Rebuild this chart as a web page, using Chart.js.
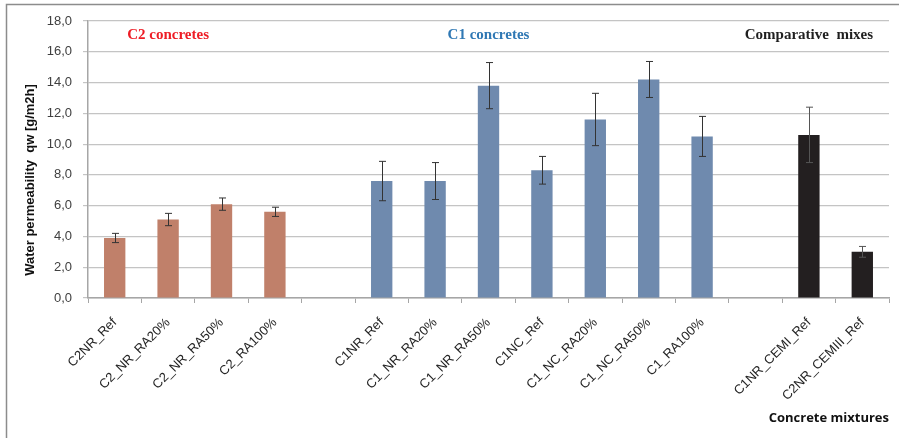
<!DOCTYPE html>
<html>
<head>
<meta charset="utf-8">
<script src="https://cdn.jsdelivr.net/npm/chart.js@4"></script>
<style>
  html, body { margin: 0; padding: 0; background: #fff; }
  #wrap { width: 899px; height: 438px; position: relative; }
</style>
</head>
<body>
<div id="wrap"><canvas id="chart"></canvas></div>
<script>
// ── 데이터 ──────────────────────────────────────────────────────────────
var categories = [
  "C2NR_Ref", "C2_NR_RA20%", "C2_NR_RA50%", "C2_RA100%", "",
  "C1NR_Ref", "C1_NR_RA20%", "C1_NR_RA50%", "C1NC_Ref", "C1_NC_RA20%", "C1_NC_RA50%", "C1_RA100%", "",
  "C1NR_CEMI_Ref", "C2NR_CEMIII_Ref"
];
var qwValues = [3.9, 5.1, 6.1, 5.6, null, 7.6, 7.6, 13.8, 8.3, 11.6, 14.2, 10.5, null, 10.6, 3.0];
var qwErrors = [0.3, 0.4, 0.4, 0.3, null, 1.28, 1.2, 1.5, 0.9, 1.7, 1.17, 1.3, null, 1.8, 0.35];
var groups   = ["C2", "C2", "C2", "C2", null, "C1", "C1", "C1", "C1", "C1", "C1", "C1", null, "CMP", "CMP"];
var yTicks   = [0, 2, 4, 6, 8, 10, 12, 14, 16, 18];

var groupLabels = [
  { text: "C2 concretes",        at: 1,  color: "#ee1c25" },
  { text: "C1 concretes",        at: 7,  color: "#2f78b4" },
  { text: "Comparative  mixes",  at: 13, color: "#1f1f1f" }
];
var groupColors = { C2: "#c0806a", C1: "#6f8aae", CMP: "#231f20" };
var yTitle = "Water permeability  qw [g/m2h]";

// ── 플러그인 ────────────────────────────────────────────────────────────
var errorBars = {
  id: "errorBars",
  afterDatasetsDraw: function(chart) {
    var ctx = chart.ctx, y = chart.scales.y;
    var meta = chart.getDatasetMeta(0);
    ctx.save();
    ctx.lineWidth = 1;
    meta.data.forEach(function(bar, i) {
      var v = qwValues[i], e = qwErrors[i];
      if (v === null || e === null) return;
      ctx.strokeStyle = groups[i] === "CMP" ? "#555" : "#333";
      var x = Math.round(bar.x) + 0.5;
      var yt = y.getPixelForValue(v + e), yb = y.getPixelForValue(v - e);
      ctx.beginPath();
      ctx.moveTo(x, yt); ctx.lineTo(x, yb);
      ctx.moveTo(x - 3.5, yt); ctx.lineTo(x + 3.5, yt);
      ctx.moveTo(x - 3.5, yb); ctx.lineTo(x + 3.5, yb);
      ctx.stroke();
    });
    ctx.restore();
  }
};

var decorations = {
  id: "decorations",
  afterDraw: function(chart) {
    var ctx = chart.ctx, xs = chart.scales.x, ys = chart.scales.y;
    ctx.save();
    // 바깥 테두리 (좌/상)
    ctx.strokeStyle = "#8c8c8c";
    ctx.lineWidth = 1.5;
    ctx.beginPath();
    ctx.moveTo(6.5, chart.height); ctx.lineTo(6.5, 4.5); ctx.lineTo(chart.width, 4.5);
    ctx.stroke();
    // 그룹 제목
    ctx.font = "bold 15px 'Liberation Serif', serif";
    ctx.textAlign = "center";
    ctx.textBaseline = "middle";
    groupLabels.forEach(function(g) {
      ctx.fillStyle = g.color;
      ctx.fillText(g.text, xs.getPixelForValue(g.at), ys.getPixelForValue(17.1));
    });
    // Y축 제목
    ctx.translate(30, 180);
    ctx.rotate(-Math.PI / 2);
    ctx.fillStyle = "#111";
    ctx.font = "bold 13px 'Liberation Sans', sans-serif";
    ctx.fillText(yTitle, 0, 0);
    ctx.restore();
  }
};

// ── 차트 ────────────────────────────────────────────────────────────────
new Chart(document.getElementById("chart"), {
  type: "bar",
  data: {
    labels: categories,
    datasets: [{
      data: qwValues,
      backgroundColor: groups.map(function(g) { return g ? groupColors[g] : "transparent"; }),
      barPercentage: 0.4,
      categoryPercentage: 1.0
    }]
  },
  options: {
    responsive: true,
    maintainAspectRatio: false,
    animation: false,
    layout: { padding: { left: 3, right: 10, top: 21, bottom: 0 } },
    plugins: { legend: { display: false }, tooltip: { enabled: false } },
    scales: {
      x: {
        grid: { display: true, drawOnChartArea: false, tickLength: 5, color: "#a6a6a6", offset: true },
        border: { color: "#a6a6a6", width: 1.5 },
        ticks: {
          autoSkip: false, maxRotation: 45, minRotation: 45,
          font: { family: "'Liberation Sans', sans-serif", size: 13 },
          color: "#262626", padding: 12
        },
        title: {
          display: true, text: "Concrete mixtures", align: "end",
          font: { family: "'Open Sans', sans-serif", size: 13, weight: "bold" },
          color: "#111", padding: { top: 0, bottom: 12 }
        },
        afterFit: function(scale) { scale.height = 140; }
      },
      y: {
        min: 0, max: 18,
        afterBuildTicks: function(scale) { scale.ticks = yTicks.map(function(v) { return { value: v }; }); },
        grid: { color: "#c4c4c4", lineWidth: 1.2, tickLength: 5 },
        border: { color: "#a6a6a6", width: 1.5 },
        ticks: {
          font: { family: "'Liberation Sans', sans-serif", size: 13 },
          color: "#404040", padding: 11,
          callback: function(v) { return v.toFixed(1).replace(".", ","); }
        },
        afterFit: function(scale) { scale.width = 85; }
      }
    }
  },
  plugins: [errorBars, decorations]
});
</script>
</body>
</html>
